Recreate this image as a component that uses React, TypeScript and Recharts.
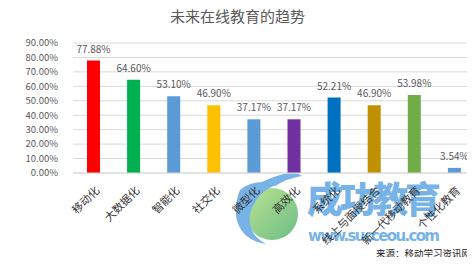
import React from "react";
import { BarChart, Bar, XAxis, YAxis, CartesianGrid, Cell, LabelList } from "recharts";

const categories = [
  "移动化", "大数据化", "智能化", "社交化", "微型化",
  "高效化", "系统化", "线上与面授结合", "新一代移动教育", "个性化教育",
];
const shares = [0.7788, 0.646, 0.531, 0.469, 0.3717, 0.3717, 0.5221, 0.469, 0.5398, 0.0354];
const barColors = [
  "#ff0000", "#00b050", "#5b9bd5", "#ffc000", "#5b9bd5",
  "#7030a0", "#0070c0", "#bf9000", "#70ad47", "#5b9bd5",
];
const yTicks = [0, 0.1, 0.2, 0.3, 0.4, 0.5, 0.6, 0.7, 0.8, 0.9];

const rows = categories.map((name, i) => ({ name, value: shares[i], color: barColors[i] }));

const FONT = "'Noto Sans CJK SC', 'Noto Sans', sans-serif";
const pct = (v: number) => `${(v * 100).toFixed(2)}%`;

function CategoryTick({ x, y, payload }: any) {
  const px = x + 5;
  const py = y + 8;
  return (
    <text
      x={px}
      y={py}
      transform={`rotate(-45, ${px}, ${py})`}
      textAnchor="end"
      dominantBaseline="middle"
      fontSize={11}
      fontFamily={FONT}
      fill="#333"
    >
      {payload.value}
    </text>
  );
}

// site watermark and source note behind the chart
function Watermark() {
  return (
    <svg width={475} height={265} style={{ position: "absolute", left: 0, top: 0 }}>
      <defs>
        <linearGradient id="wmGreen" x1="0" y1="0" x2="1" y2="1">
          <stop offset="0%" stopColor="#a6d96a" />
          <stop offset="100%" stopColor="#3aa860" />
        </linearGradient>
      </defs>
      <g opacity={0.75}>
        <circle cx={272} cy={214} r={26} fill="url(#wmGreen)" />
        <path d="M240 190 Q254 178 278 184 Q256 192 250 214 Q247 234 266 244 Q240 240 236 216 Q235 200 240 190 Z" fill="#4a9ade" />
        <path d="M262 182 Q292 168 302 176 Q288 178 275 186 Z" fill="#4a9ade" />
        <text x={307} y={213} fontSize={36} fontWeight={900} fontFamily={FONT} fill="#4a9ade" textLength={134}>
          成功教育
        </text>
        <text x={308} y={241} fontSize={15} fontWeight={700} fontFamily="'DejaVu Sans', sans-serif" fill="#4a9ade" textLength={132}>
          www.succeou.com
        </text>
      </g>
      <text x={471} y={257} textAnchor="end" fontSize={9.5} fontFamily={FONT} fill="#222">
        来源：移动学习资讯网
      </text>
      <line x1={25} x2={475} y1={261.5} y2={261.5} stroke="#d9d9d9" />
    </svg>
  );
}

export default function App() {
  return (
    <div style={{ position: "relative", width: 475, height: 265, margin: -8, background: "#fff", fontFamily: FONT, overflow: "hidden" }}>
      <Watermark />
      <div style={{ position: "absolute", left: 0, top: 5, width: 475, textAlign: "center", fontSize: 15, color: "#595959" }}>
        未来在线教育的趋势
      </div>
      <div style={{ position: "absolute", left: 0, top: 0 }}>
        <BarChart width={475} height={265} data={rows} margin={{ top: 43, right: 1, bottom: 0, left: 0 }} barCategoryGap="34%">
          <CartesianGrid stroke="#d9d9d9" vertical={false} />
          <XAxis
            dataKey="name"
            interval={0}
            tick={<CategoryTick />}
            axisLine={{ stroke: "#d9d9d9" }}
            tickLine={false}
            height={92}
          />
          <YAxis
            domain={[0, 0.9]}
            ticks={yTicks}
            interval={0}
            tickFormatter={pct}
            width={73}
            axisLine={false}
            tickLine={false}
            tick={{ fontSize: 9.5, fill: "#595959", fontFamily: FONT }}
            tickMargin={9}
          />
          <Bar dataKey="value" isAnimationActive={false} barSize={13}>
            {rows.map((r) => (
              <Cell key={r.name} fill={r.color} />
            ))}
            <LabelList dataKey="value" position="top" offset={8} formatter={(v: any) => pct(Number(v))} style={{ fontSize: 10, fill: "#595959", fontFamily: FONT }} />
          </Bar>
        </BarChart>
      </div>
    </div>
  );
}
